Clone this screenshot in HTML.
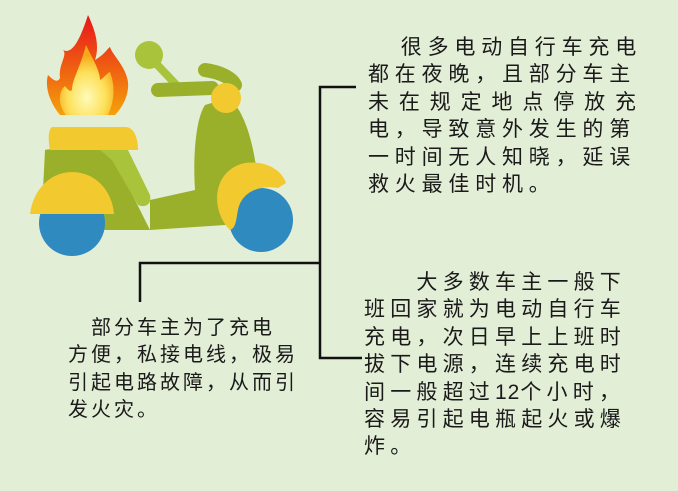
<!DOCTYPE html>
<html><head><meta charset="utf-8"><style>
html,body{margin:0;padding:0;}
body{width:678px;height:491px;background:#e3eed7;position:relative;overflow:hidden;font-family:"Liberation Sans","Noto Sans CJK SC",sans-serif;color:#1a1a1a;}
.t{position:absolute;font-size:21px;line-height:27.4px;white-space:nowrap;}
.t div{height:27.4px;}
.j{text-align:justify;text-align-last:justify;letter-spacing:0!important;}
</style></head><body>
<svg width="678" height="491" style="position:absolute;left:0;top:0">
<defs>
<linearGradient id="f1" x1="0" y1="0" x2="0" y2="1"><stop offset="0" stop-color="#e8141a"/><stop offset="1" stop-color="#f5a10a"/></linearGradient>
<radialGradient id="f2" cx="0.5" cy="0.75" r="0.6"><stop offset="0" stop-color="#fffbb8"/><stop offset="0.6" stop-color="#fde05a"/><stop offset="1" stop-color="#f7a81a"/></radialGradient>
</defs>
<path d="M60 115 C48 100 45 85 48 75 C55 82 58 82 60 78 C58 65 68 55 63 50 C72 55 80 40 88 15 C95 30 100 45 95 60 C104 55 108 48 110 47 C112 55 130 70 128 88 C127 100 120 110 115 115 Z" fill="url(#f1)"/>
<path d="M66 115 C58 105 58 92 65 86 C68 90 70 92 72 90 C72 80 80 68 86 45 C92 58 100 70 100 80 C104 78 108 72 110 72 C115 85 115 100 108 115 Z" fill="url(#f2)"/>
<line x1="149" y1="56" x2="183" y2="92" stroke="#a9c43a" stroke-width="8" stroke-linecap="round"/>
<circle cx="149" cy="55" r="14" fill="#a9c43a"/>
<path d="M158 90 L212 88" stroke="#9bb02a" stroke-width="14" stroke-linecap="round"/>
<path d="M205 70 C220 72 232 78 235 85" stroke="#9bb02a" stroke-width="14" stroke-linecap="round" fill="none"/>
<path d="M205 105 C195 120 193 160 195 190 L150 200 L150 230 L225 225 C250 215 262 190 255 160 C250 130 240 105 228 98 Z" fill="#9bb02a"/>
<path d="M45 150 C50 148 90 148 110 150 L135 200 L150 230 L60 230 L42 210 Z" fill="#9bb02a"/>
<path d="M100 150 L128 150 L150 195 C152 205 145 208 138 205 L112 160 Z" fill="#a9c43a"/>
<path d="M52 127 L125 127 C135 127 138 140 138 150 L50 150 C48 140 48 130 52 127 Z" fill="#f2c92f"/>
<circle cx="72" cy="223" r="33" fill="#2f8ac0"/>
<circle cx="261" cy="220" r="32" fill="#2f8ac0"/>
<path d="M30 214 C33 190 50 172 72 172 C95 172 112 190 114 214 Z" fill="#f2c92f"/>
<path d="M230 230 C210 210 212 170 245 163 C265 160 282 170 286 183 L278 188 C262 185 242 190 238 210 C236 220 236 228 230 230 Z" fill="#f2c92f"/>
<circle cx="226" cy="98" r="15" fill="#f2c92f"/>
<g stroke="#111" stroke-width="2.5" fill="none">
<polyline points="356,87 320,87 320,358 362,358"/>
<polyline points="320,263 140,263 140,302"/>
</g>
</svg>
<div class="t" style="left:368px;top:34px;letter-spacing:5.8px;">
<div style="width:274px;text-align:right">很多电动自行车充电</div>
<div>都在夜晚，且部分车主</div>
<div class="j" style="width:268px">未在规定地点停放充</div>
<div>电，导致意外发生的第</div>
<div>一时间无人知晓，延误</div>
<div>救火最佳时机。</div>
</div>
<div class="t" style="left:364px;top:269px;letter-spacing:5.2px;">
<div>&emsp;&emsp;大多数车主一般下</div>
<div>班回家就为电动自行车</div>
<div>充电，次日早上上班时</div>
<div>拔下电源，连续充电时</div>
<div>间一般超过<span style="letter-spacing:1px">12</span>个小时，</div>
<div>容易引起电瓶起火或爆</div>
<div>炸。</div>
</div>
<div class="t" style="left:68px;top:315px;font-size:20px;letter-spacing:3px;">
<div>&emsp;部分车主为了充电</div>
<div>方便，私接电线，极易</div>
<div>引起电路故障，从而引</div>
<div>发火灾。</div>
</div>
</body></html>
